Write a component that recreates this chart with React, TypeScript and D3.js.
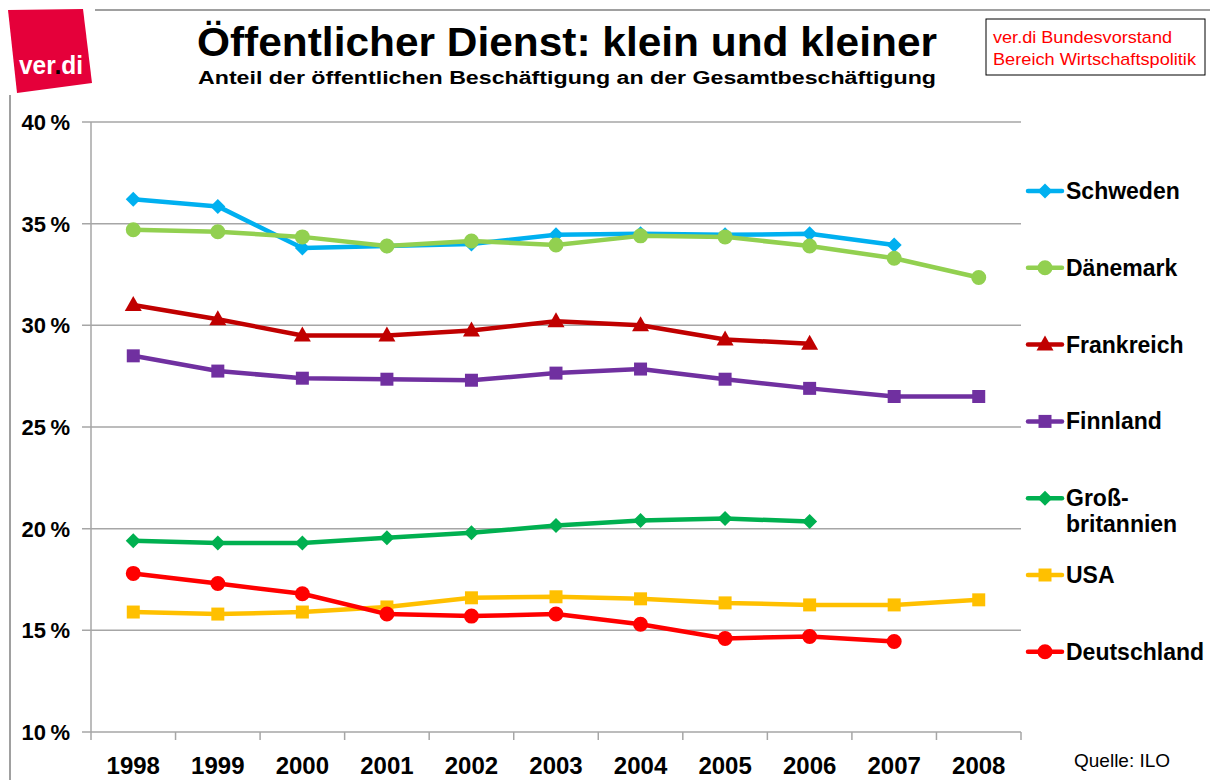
import React from "react";
import * as d3 from "d3";

const years = ["1998","1999","2000","2001","2002","2003","2004","2005","2006","2007","2008"];
const yTicks = [10, 15, 20, 25, 30, 35, 40];

const schweden = [36.2, 35.85, 33.8, 33.9, 34.0, 34.45, 34.5, 34.45, 34.5, 33.95, null];
const daenemark = [34.7, 34.6, 34.35, 33.9, 34.15, 33.95, 34.4, 34.35, 33.9, 33.3, 32.35];
const frankreich = [31.0, 30.3, 29.5, 29.5, 29.75, 30.2, 30.0, 29.3, 29.1, null, null];
const finnland = [28.5, 27.75, 27.4, 27.35, 27.3, 27.65, 27.85, 27.35, 26.9, 26.5, 26.5];
const grossbritannien = [19.4, 19.3, 19.3, 19.55, 19.8, 20.15, 20.4, 20.5, 20.35, null, null];
const usa = [15.9, 15.8, 15.9, 16.15, 16.6, 16.65, 16.55, 16.35, 16.25, 16.25, 16.5];
const deutschland = [17.8, 17.3, 16.8, 15.8, 15.7, 15.8, 15.3, 14.6, 14.7, 14.45, null];

type Shape = "diamond" | "circle" | "triangle" | "square";
const series: { name: string[]; values: (number | null)[]; color: string; shape: Shape }[] = [
  { name: ["Schweden"], values: schweden, color: "#00B0F0", shape: "diamond" },
  { name: ["Dänemark"], values: daenemark, color: "#92D050", shape: "circle" },
  { name: ["Frankreich"], values: frankreich, color: "#C00000", shape: "triangle" },
  { name: ["Finnland"], values: finnland, color: "#7030A0", shape: "square" },
  { name: ["Groß-", "britannien"], values: grossbritannien, color: "#00B050", shape: "diamond" },
  { name: ["USA"], values: usa, color: "#FFC000", shape: "square" },
  { name: ["Deutschland"], values: deutschland, color: "#FF0000", shape: "circle" },
];

const FONT = "'Liberation Sans', Arial, sans-serif";

function markerPath(shape: Shape, cx: number, cy: number): string {
  if (shape === "circle") {
    const r = 7.5;
    return `M${cx - r},${cy}a${r},${r} 0 1,0 ${2 * r},0a${r},${r} 0 1,0 ${-2 * r},0Z`;
  }
  if (shape === "square") {
    const h = 6.5;
    return `M${cx - h},${cy - h}H${cx + h}V${cy + h}H${cx - h}Z`;
  }
  if (shape === "diamond") {
    const h = 7.5;
    return `M${cx},${cy - h}L${cx + h},${cy}L${cx},${cy + h}L${cx - h},${cy}Z`;
  }
  return `M${cx},${cy - 9}L${cx + 8.5},${cy + 6}L${cx - 8.5},${cy + 6}Z`;
}

export default function App() {
  const W = 1210, H = 780;
  const x = d3.scaleBand<string>().domain(years).range([91, 1021]).paddingInner(0).paddingOuter(0);
  const y = d3.scaleLinear().domain([10, 40]).range([732, 122]);
  const cx = (yr: string) => (x(yr) as number) + x.bandwidth() / 2;

  const line = d3
    .line<number | null>()
    .defined((d) => d != null)
    .x((_, i) => cx(years[i]))
    .y((d) => y(d as number));

  const legendY0 = 191;
  const legendStep = 76.8;
  const gridColor = "#A6A6A6";

  return (
    <div style={{ position: "absolute", left: 0, top: 0 }}>
      <svg width={W} height={H} style={{ display: "block", background: "#fff" }} fontFamily={FONT}>
        <line x1={95} y1={10} x2={W} y2={10} stroke="#A0A0A0" strokeWidth={2} />
        <line x1={10} y1={95} x2={10} y2={H} stroke="#A0A0A0" strokeWidth={2} />

        <polygon points="8,10 83,9 92,83 17,93" fill="#E5003A" />
        <text x={19} y={74} fontSize={26} fontWeight="bold" fill="#fff" textLength={64} lengthAdjust="spacingAndGlyphs">
          ver<tspan fill="#000">.</tspan>di
        </text>

        <text x={567} y={56} textAnchor="middle" fontSize={40} fontWeight="bold" fill="#000"
          textLength={740} lengthAdjust="spacingAndGlyphs">
          Öffentlicher Dienst: klein und kleiner
        </text>
        <text x={567} y={84} textAnchor="middle" fontSize={17.5} fontWeight="bold" fill="#000"
          textLength={738} lengthAdjust="spacingAndGlyphs">
          Anteil der öffentlichen Beschäftigung an der Gesamtbeschäftigung
        </text>

        <rect x={986} y={19} width={219} height={56} fill="#fff" stroke="#000" strokeWidth={1} />
        <text x={993} y={43} fontSize={17} fill="#FF0000" textLength={179} lengthAdjust="spacingAndGlyphs">ver.di Bundesvorstand</text>
        <text x={993} y={65} fontSize={17} fill="#FF0000" textLength={203} lengthAdjust="spacingAndGlyphs">Bereich Wirtschaftspolitik</text>

        {yTicks.map((t) => (
          <g key={t}>
            <line x1={82} x2={1021} y1={y(t)} y2={y(t)} stroke={gridColor} strokeWidth={1.5} />
            <text x={70} y={y(t) + 8} textAnchor="end" fontSize={22} fontWeight="bold" fill="#000">
              {t}{"\u2009"}%
            </text>
          </g>
        ))}
        <line x1={91} x2={91} y1={122} y2={740} stroke={gridColor} strokeWidth={1.5} />
        {years.map((yr) => (
          <line key={"t" + yr} x1={(x(yr) as number) + x.bandwidth()} x2={(x(yr) as number) + x.bandwidth()}
            y1={y(10)} y2={y(10) + 8} stroke={gridColor} strokeWidth={1.5} />
        ))}
        {years.map((yr) => (
          <text key={"l" + yr} x={cx(yr)} y={774} textAnchor="middle" fontSize={24} fontWeight="bold" fill="#000">
            {yr}
          </text>
        ))}

        {series.map((s) => (
          <g key={s.name.join("")}>
            <path d={line(s.values) || ""} fill="none" stroke={s.color} strokeWidth={4.5} strokeLinejoin="round" />
            {s.values.map((v, i) =>
              v == null ? null : (
                <path key={i} d={markerPath(s.shape, cx(years[i]), y(v))} fill={s.color} />
              )
            )}
          </g>
        ))}

        {series.map((s, i) => {
          const ly = legendY0 + i * legendStep;
          return (
            <g key={"lg" + i}>
              <line x1={1028} x2={1062} y1={ly} y2={ly} stroke={s.color} strokeWidth={4.5} strokeLinecap="round" />
              <path d={markerPath(s.shape, 1045, ly)} fill={s.color} />
              {s.name.map((n, j) => (
                <text key={j} x={1066} y={ly + 8 + j * 26} fontSize={23} fontWeight="bold" fill="#000">
                  {n}
                </text>
              ))}
            </g>
          );
        })}

        <text x={1074} y={767} fontSize={19} fill="#000">Quelle: ILO</text>
      </svg>
    </div>
  );
}
